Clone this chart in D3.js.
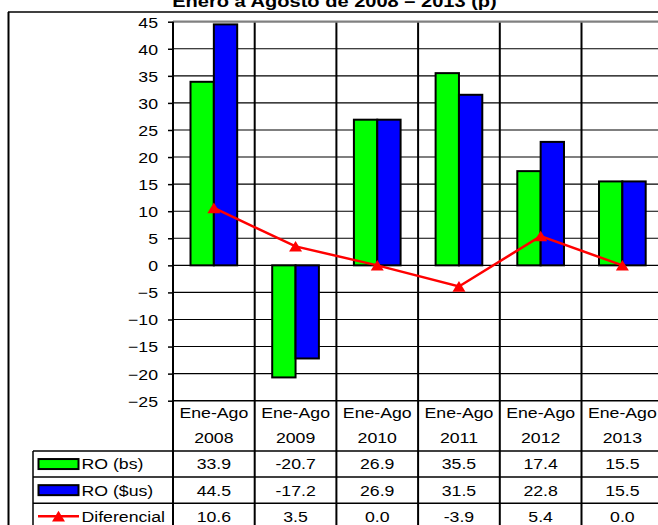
<!DOCTYPE html>
<html>
<head>
<meta charset="utf-8">
<script src="https://cdn.jsdelivr.net/npm/d3@7"></script>
<style>
  html, body { margin: 0; padding: 0; background: #fff; }
  svg { display: block; }
  text { font-family: "Liberation Sans", Arial, sans-serif; fill: #000; }
</style>
</head>
<body>
<svg id="chart" width="658" height="525"></svg>
<script>
// ---- data ----
const title = "Enero a Agosto de 2008 – 2013 (p)";
const periods = ["Ene-Ago", "Ene-Ago", "Ene-Ago", "Ene-Ago", "Ene-Ago", "Ene-Ago"];
const years = ["2008", "2009", "2010", "2011", "2012", "2013"];
const roBs = [33.9, -20.7, 26.9, 35.5, 17.4, 15.5];
const roUs = [44.5, -17.2, 26.9, 31.5, 22.8, 15.5];
const diferencial = [10.6, 3.5, 0.0, -3.9, 5.4, 0.0];
const seriesNames = ["RO (bs)", "RO ($us)", "Diferencial"];
const yTicks = [-25, -20, -15, -10, -5, 0, 5, 10, 15, 20, 25, 30, 35, 40, 45];

// ---- layout ----
const W = 658, H = 525;
const plotL = 173, plotT = 21.7, plotB = 400.7;
const colW = 81.7;
const rowH = 26.1;
const tableTop = plotB, headerB = 451;
const legendL = 33;
const SX = 1.18; // horizontal stretch of the original text
const fs = 15;

const svg = d3.select("#chart");

const x = d3.scaleBand().domain(years).range([plotL, plotL + colW * years.length]).paddingInner(0).paddingOuter(0);
const y = d3.scaleLinear().domain([-25, 45]).range([plotB, plotT]);
const bw = x.bandwidth() / 3.5;
const x1 = d3.scaleBand().domain([0, 1]).range([x.bandwidth() * 0.75 / 3.5, x.bandwidth() * 0.75 / 3.5 + 2 * bw]);

function stext(g, tx, ty, str, opts = {}) {
  const t = g.append("text")
    .attr("transform", `translate(${tx},${ty}) scale(${opts.sx || SX},1)`)
    .attr("text-anchor", opts.anchor || "middle")
    .attr("dy", opts.dy != null ? opts.dy : "0.36em")
    .style("font-size", (opts.size || fs) + "px")
    .text(str);
  if (opts.bold) t.style("font-weight", "bold");
  return t;
}

// outer frame
svg.append("line").attr("x1", 8).attr("x2", W).attr("y1", 12).attr("y2", 12)
  .attr("stroke", "#000").attr("stroke-width", 1.5);
svg.append("line").attr("x1", 8.5).attr("x2", 8.5).attr("y1", 12).attr("y2", H)
  .attr("stroke", "#000").attr("stroke-width", 2);

// title
stext(svg, 334.5, 7, title, { bold: true, size: 17, dy: 0 });

// horizontal gridlines
const grid = svg.append("g");
grid.selectAll("line.h").data(yTicks.filter(v => v > -25 && v < 45)).join("line")
  .attr("x1", plotL).attr("x2", W)
  .attr("y1", d => y(d)).attr("y2", d => y(d))
  .attr("stroke", "#000").attr("stroke-width", 1.1);

// vertical category separators (through plot and table)
grid.selectAll("line.v").data(years).join("line")
  .attr("x1", d => x(d) + colW).attr("x2", d => x(d) + colW)
  .attr("y1", plotT).attr("y2", H)
  .attr("stroke", "#000").attr("stroke-width", 2);

// bars
const bars = svg.append("g");
const barSeries = [{ vals: roBs, color: "#00ff00" }, { vals: roUs, color: "#0000ff" }];
barSeries.forEach((s, si) => {
  bars.selectAll(null).data(s.vals).join("rect")
    .attr("x", (d, i) => x(years[i]) + x1(si))
    .attr("width", bw)
    .attr("y", d => y(Math.max(0, d)))
    .attr("height", d => Math.abs(y(d) - y(0)))
    .attr("fill", s.color)
    .attr("stroke", "#000").attr("stroke-width", 2);
});

// plot top border (gray)
svg.append("line").attr("x1", plotL).attr("x2", W).attr("y1", plotT).attr("y2", plotT)
  .attr("stroke", "#808080").attr("stroke-width", 2.2);

// y axis
const yAxis = d3.axisLeft(y).tickValues(yTicks).tickSize(5).tickSizeOuter(0).tickFormat(d3.format("d"));
const ag = svg.append("g").attr("transform", `translate(${plotL},0)`).call(yAxis);
ag.select(".domain").remove();
ag.selectAll(".tick line").attr("stroke", "#000").attr("stroke-width", 1.5);
ag.selectAll(".tick text").remove();
ag.selectAll(".tick").each(function (d) {
  stext(d3.select(this), -15, 0, d3.format("d")(d), { anchor: "end" });
});
svg.append("line").attr("x1", plotL).attr("x2", plotL).attr("y1", plotT).attr("y2", H)
  .attr("stroke", "#000").attr("stroke-width", 2);

// line series
const tri = "M0,-5.4 L6.5,5.2 L-6.5,5.2 Z";
const lineGen = d3.line().x((d, i) => x(years[i]) + x.bandwidth() / 2).y(d => y(d));
svg.append("path").datum(diferencial).attr("d", lineGen)
  .attr("fill", "none").attr("stroke", "#ff0000").attr("stroke-width", 2.5);
svg.append("g").selectAll("path").data(diferencial).join("path")
  .attr("d", tri)
  .attr("transform", (d, i) => `translate(${x(years[i]) + x.bandwidth() / 2},${y(d)})`)
  .attr("fill", "#ff0000");

// data table lines
const tl = svg.append("g");
tl.append("line").attr("x1", plotL).attr("x2", W).attr("y1", tableTop).attr("y2", tableTop)
  .attr("stroke", "#000").attr("stroke-width", 1.5);
[0, 1, 2].forEach(r => {
  const yy = headerB + r * rowH;
  tl.append("line").attr("x1", legendL).attr("x2", W).attr("y1", yy).attr("y2", yy)
    .attr("stroke", "#000").attr("stroke-width", 1.5);
});
tl.append("line").attr("x1", legendL).attr("x2", legendL).attr("y1", headerB).attr("y2", H)
  .attr("stroke", "#000").attr("stroke-width", 1.5);

// header
const th = svg.append("g");
years.forEach((yr, i) => {
  const cx = x(yr) + x.bandwidth() / 2;
  stext(th, cx, 413, periods[i]);
  stext(th, cx, 438, yr);
});

// rows
const rows = [roBs, roUs, diferencial];
rows.forEach((vals, r) => {
  const cy = headerB + r * rowH + rowH / 2;
  vals.forEach((v, i) => {
    stext(th, x(years[i]) + x.bandwidth() / 2, cy, v.toFixed(1));
  });
  // legend key
  if (r < 2) {
    th.append("rect").attr("x", 38.5).attr("y", cy - 5).attr("width", 40).attr("height", 10)
      .attr("fill", barSeries[r].color).attr("stroke", "#000").attr("stroke-width", 2);
  } else {
    th.append("line").attr("x1", 38).attr("x2", 79).attr("y1", cy).attr("y2", cy)
      .attr("stroke", "#ff0000").attr("stroke-width", 2.5);
    th.append("path").attr("d", tri).attr("transform", `translate(58.5,${cy})`).attr("fill", "#ff0000");
  }
  stext(th, 81.5, cy, seriesNames[r], { anchor: "start" });
});
</script>
</body>
</html>
